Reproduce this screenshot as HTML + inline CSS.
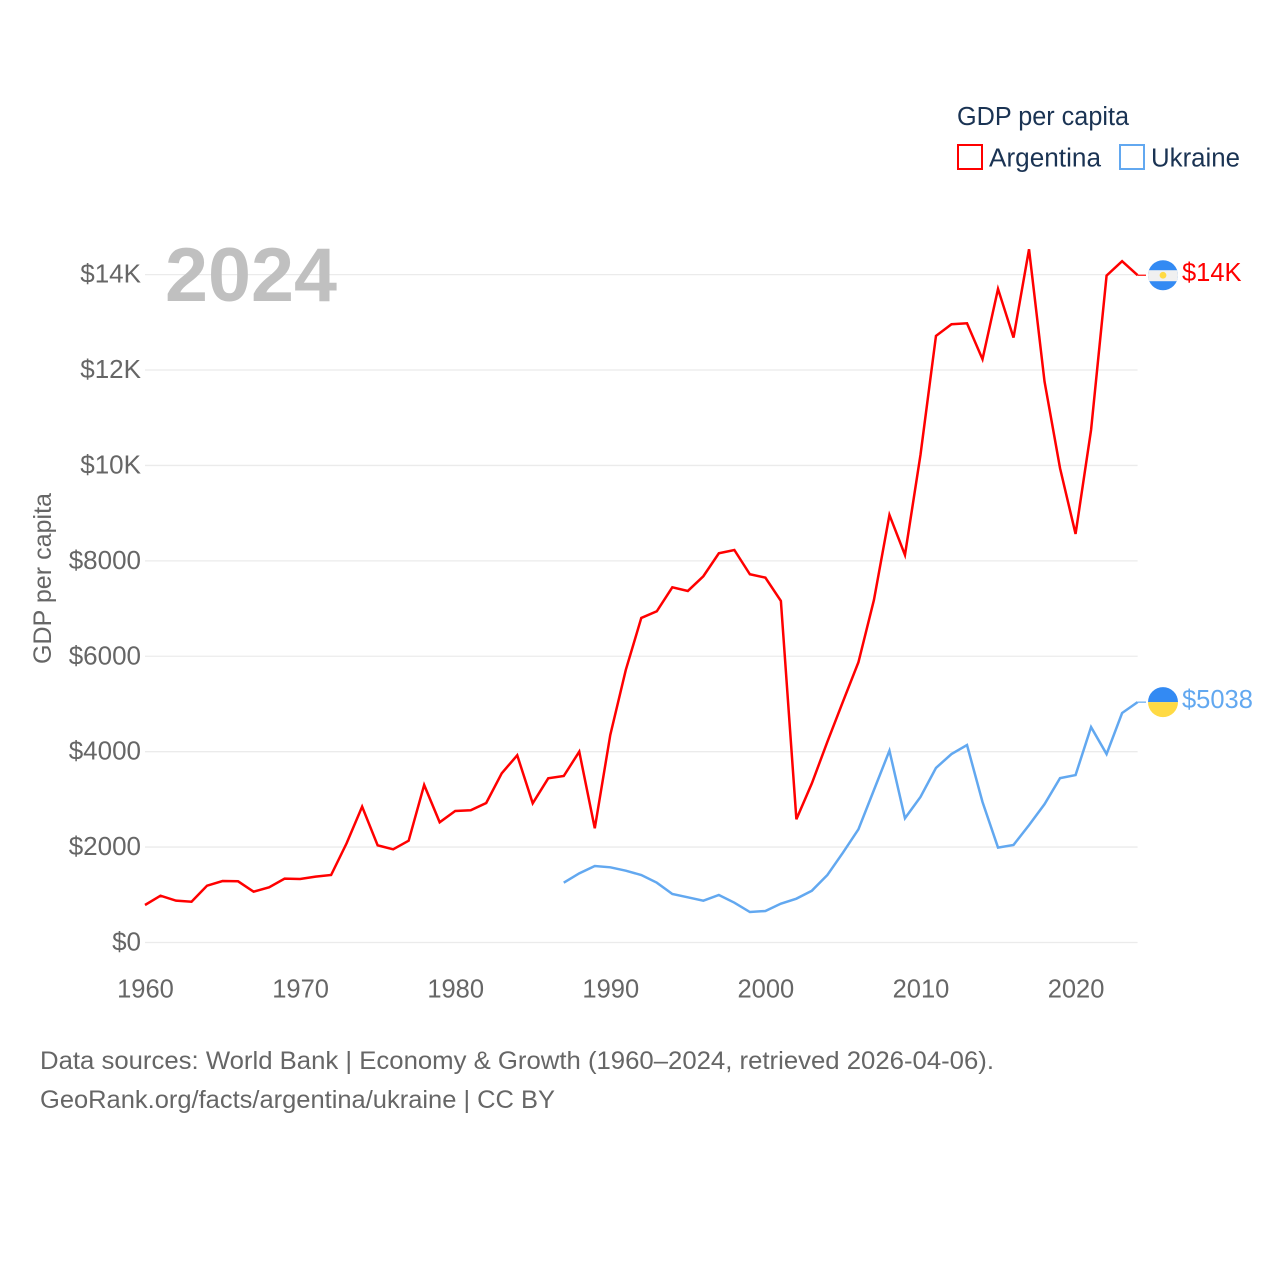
<!DOCTYPE html>
<html lang="en">
<head>
<meta charset="utf-8">
<title>GDP per capita: Argentina and Ukraine</title>
<style>
html,body{margin:0;padding:0;background:#fff;}
svg{display:block;font-family:"Liberation Sans",sans-serif;}
</style>
</head>
<body>
<svg id="chart" xmlns="http://www.w3.org/2000/svg" width="1280" height="1280" viewBox="0 0 1280 1280">
  <rect x="0" y="0" width="1280" height="1280" fill="#ffffff"/>
  <g id="grid"></g>
  <g id="yticks"></g>
  <g id="xticks"></g>
  <text x="165" y="301" font-size="76" font-weight="700" fill="#c0c0c0" textLength="172" lengthAdjust="spacingAndGlyphs">2024</text>
  <text transform="translate(51,664) rotate(-90)" font-size="25" fill="#666666" textLength="171" lengthAdjust="spacingAndGlyphs">GDP per capita</text>
  <g id="series"></g>

  <g id="flag-ar">
    <clipPath id="clip-ar"><circle cx="1163" cy="0" r="15"/></clipPath>
    <g clip-path="url(#clip-ar)">
      <rect x="1147" y="-16" width="32" height="32" fill="#338af3"/>
      <rect x="1147" y="-5" width="32" height="11" fill="#f0f0f0"/>
    </g>
    <circle cx="1163" cy="0" r="3.4" fill="#ffda44"/>
  </g>
  <g id="flag-ua">
    <clipPath id="clip-ua"><circle cx="1163" cy="0" r="15"/></clipPath>
    <g clip-path="url(#clip-ua)">
      <rect x="1147" y="-16" width="32" height="16" fill="#338af3"/>
      <rect x="1147" y="0" width="32" height="16" fill="#ffda44"/>
    </g>
  </g>
  <text id="label-ar" x="1182" font-size="25.5" fill="#ff0000"></text>
  <text id="label-ua" x="1182" font-size="25.5" fill="#62a8f0"></text>

  <text x="957" y="125" font-size="25.5" fill="#1a3353" textLength="172" lengthAdjust="spacingAndGlyphs">GDP per capita</text>
  <g>
    <rect x="958" y="145" width="24" height="24" fill="none" stroke="#ff0000" stroke-width="2"/>
    <text x="989" y="166.5" font-size="25.5" fill="#1a3353" textLength="112" lengthAdjust="spacingAndGlyphs">Argentina</text>
  </g>
  <g>
    <rect x="1120" y="145" width="24" height="24" fill="none" stroke="#62a8f0" stroke-width="2"/>
    <text x="1151" y="166.5" font-size="25.5" fill="#1a3353" textLength="89" lengthAdjust="spacingAndGlyphs">Ukraine</text>
  </g>

  <text x="40" y="1069" font-size="25" fill="#666666" textLength="954" lengthAdjust="spacingAndGlyphs">Data sources: World Bank | Economy &amp; Growth (1960–2024, retrieved 2026-04-06).</text>
  <text x="40" y="1108" font-size="25" fill="#666666" textLength="515" lengthAdjust="spacingAndGlyphs">GeoRank.org/facts/argentina/ukraine | CC BY</text>
</svg>
<script>
const argentinaStartYear = 1960;
const argentinaValues = [786,981,877,855,1191,1289,1283,1065,1157,1338,1331,1380,1415,2080,2847,2037,1953,2134,3302,2520,2757,2771,2924,3547,3924,2918,3442,3490,4000,2394,4350,5713,6803,6943,7446,7369,7677,8159,8228,7719,7648,7159,2583,3337,4210,5048,5874,7180,8962,8124,10220,12715,12960,12980,12226,13700,12680,14532,11757,9941,8564,10744,13979,14281,13987];
const ukraineStartYear = 1987;
const ukraineValues = [1254,1450,1604,1576,1505,1415,1254,1017,947,877,996,835,639,660,814,919,1086,1415,1883,2373,3197,4021,2604,3050,3660,3950,4140,2945,1990,2045,2460,2900,3445,3510,4515,3950,4810,5038];
const yTickValues = [0,2000,4000,6000,8000,10000,12000,14000];
const yTickLabels = ["$0","$2000","$4000","$6000","$8000","$10K","$12K","$14K"];
const xTickValues = [1960,1970,1980,1990,2000,2010,2020];
const xTickLabels = ["1960","1970","1980","1990","2000","2010","2020"];

const NS = "http://www.w3.org/2000/svg";
const xScale = function (year) { return 145 + (year - 1960) * (992.6 / 64); };
const yScale = function (value) { return 942.5 - value * (667.9 / 14000); };
const formatValue = function (v) {
  return v >= 10000 ? "$" + Math.round(v / 1000) + "K" : "$" + Math.round(v);
};
const make = function (tag, parent) {
  const el = document.createElementNS(NS, tag);
  parent.appendChild(el);
  return el;
};

const grid = document.getElementById("grid");
const yticks = document.getElementById("yticks");
const xticks = document.getElementById("xticks");
const seriesGroup = document.getElementById("series");

yTickValues.forEach(function (v, i) {
  const y = yScale(v);
  const line = make("line", grid);
  
  
  line.setAttribute("x1", xScale(1960));
  line.setAttribute("x2", xScale(2024));
  line.setAttribute("y1", y);
  line.setAttribute("y2", y);
  line.setAttribute("stroke", "#ebebeb");
  line.setAttribute("stroke-width", "1.3");
  const label = make("text", yticks);
  
  
  label.setAttribute("x", 141);
  label.setAttribute("y", y + 8);
  label.setAttribute("text-anchor", "end");
  label.setAttribute("font-size", "26");
  label.setAttribute("fill", "#666666");
  label.textContent = yTickLabels[i];
});

xTickValues.forEach(function (v, i) {
  const label = make("text", xticks);
  
  
  label.setAttribute("x", xScale(v) + 0.5);
  label.setAttribute("y", 997.5);
  label.setAttribute("text-anchor", "middle");
  label.setAttribute("font-size", "25.5");
  label.setAttribute("fill", "#666666");
  label.textContent = xTickLabels[i];
});

const drawSeries = function (values, startYear, color, lineEl, leaderEl) {
  const pts = values.map(function (v, i) {
    return xScale(startYear + i).toFixed(2) + "," + yScale(v).toFixed(2);
  });
  lineEl.setAttribute("points", pts.join(" "));
  lineEl.setAttribute("fill", "none");
  lineEl.setAttribute("stroke", color);
  lineEl.setAttribute("stroke-width", "2.5");
  lineEl.setAttribute("stroke-linejoin", "miter");
  const last = values[values.length - 1];
  const lastYear = startYear + values.length - 1;
  leaderEl.setAttribute("x1", xScale(lastYear));
  leaderEl.setAttribute("x2", 1146);
  leaderEl.setAttribute("y1", yScale(last));
  leaderEl.setAttribute("y2", yScale(last));
  leaderEl.setAttribute("stroke", color);
  leaderEl.setAttribute("stroke-width", "1.2");
};

const lineAr = make("polyline", seriesGroup);


const leaderAr = make("line", seriesGroup);


drawSeries(argentinaValues, argentinaStartYear, "#ff0000", lineAr, leaderAr);

const lineUa = make("polyline", seriesGroup);


const leaderUa = make("line", seriesGroup);


drawSeries(ukraineValues, ukraineStartYear, "#62a8f0", lineUa, leaderUa);

const placeEnd = function (values, flagId, labelId) {
  const last = values[values.length - 1];
  const y = yScale(last);
  document.getElementById(flagId).setAttribute("transform", "translate(0," + y + ")");
  const label = document.getElementById(labelId);
  label.setAttribute("y", y + 6);
  label.textContent = formatValue(last);
};
placeEnd(argentinaValues, "flag-ar", "label-ar");
placeEnd(ukraineValues, "flag-ua", "label-ua");
</script>
</body>
</html>
